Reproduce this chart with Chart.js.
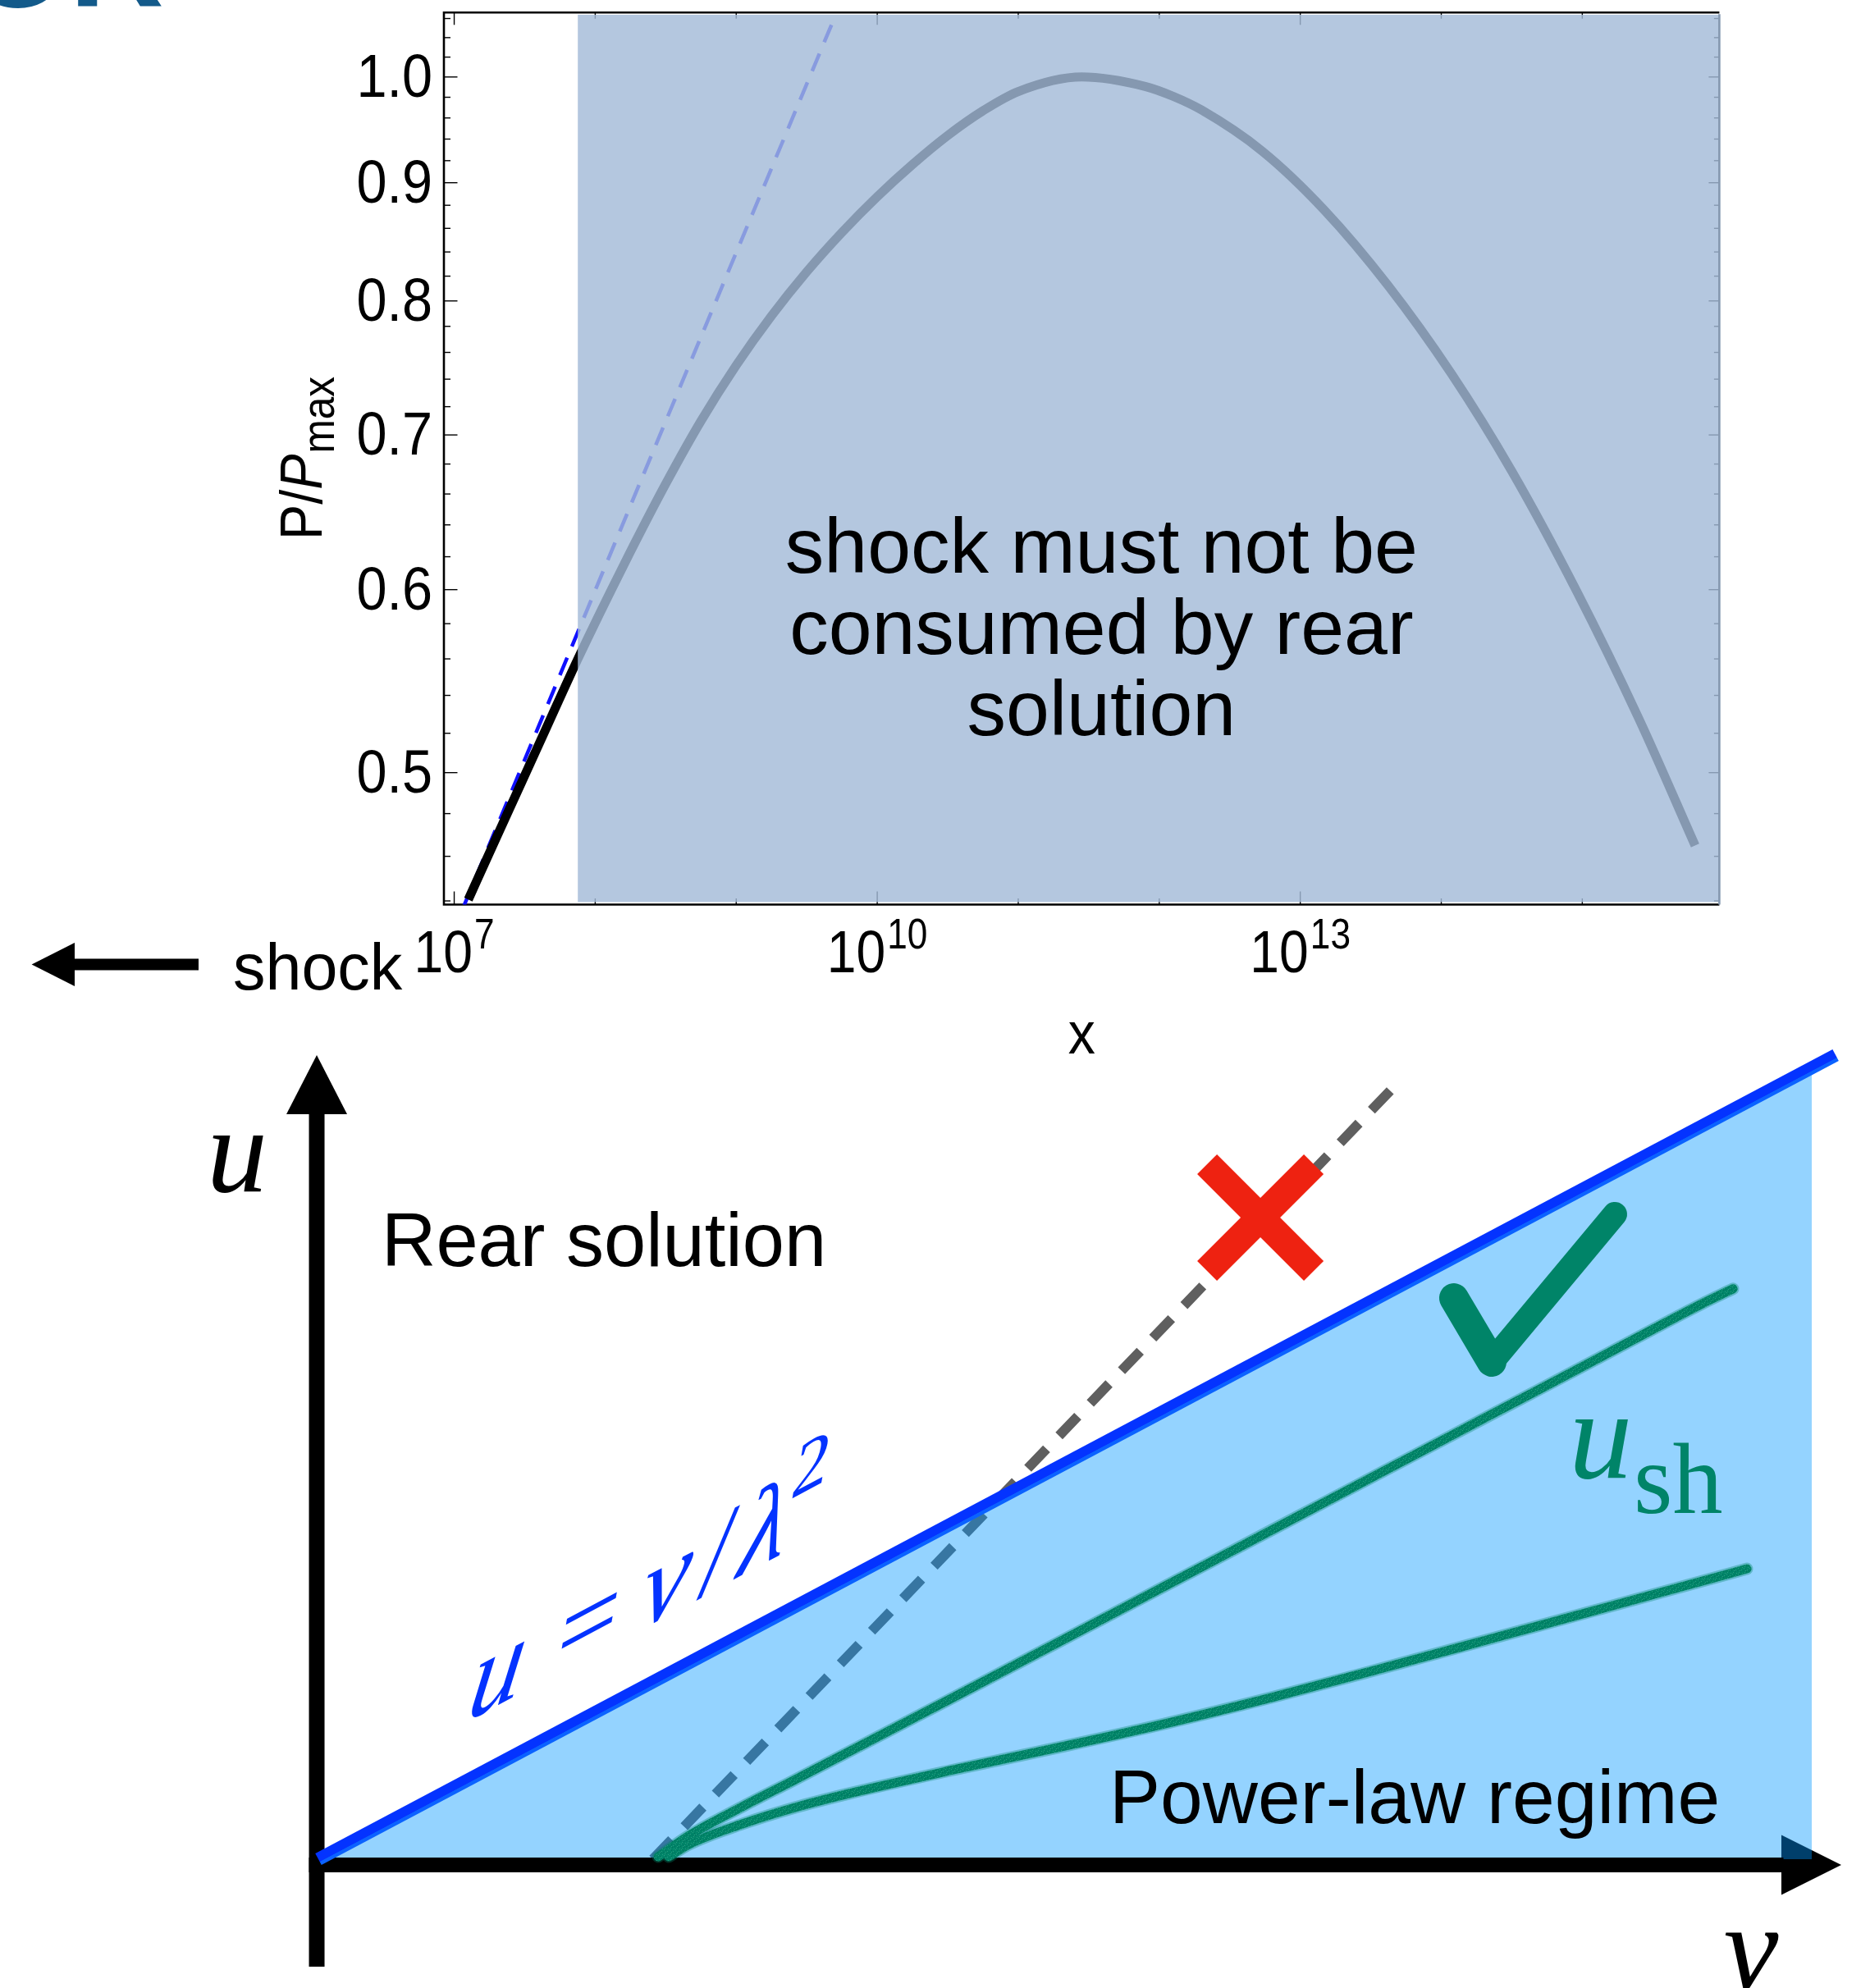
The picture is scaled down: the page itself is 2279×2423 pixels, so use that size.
<!DOCTYPE html>
<html>
<head>
<meta charset="utf-8">
<script src="https://cdn.jsdelivr.net/npm/chart.js@4.4.1/dist/chart.umd.min.js"></script>
<style>
  html, body { margin: 0; padding: 0; background: #fff; overflow: hidden; }
  #wrap { position: relative; width: 2279px; height: 2423px; }
  #wrap canvas { position: absolute; left: 0; top: 0; }
</style>
</head>
<body>
<div id="wrap">
  <canvas id="pressure" width="2279" height="2423"></canvas>
  <canvas id="phase" width="2279" height="2423"></canvas>
</div>
<script>
// ---------- upper panel: P/Pmax against x (log-log) ----------
const curveLogX = [7.10, 7.30, 7.48, 7.65, 7.876, 8.20, 8.50, 8.75, 9.00, 9.25, 9.50, 9.75, 10.00, 10.25,
                   10.50, 10.75, 11.00, 11.45, 11.90, 12.10, 12.30, 12.73, 13.17, 13.62,
                   14.07, 14.50, 14.96, 15.40, 15.80];
const curveP    = [0.4406, 0.4688, 0.4955, 0.5222, 0.5598, 0.6145, 0.6667, 0.7098, 0.7503, 0.7882, 0.8236,
                   0.8566, 0.8876, 0.9165, 0.9434, 0.9669, 0.9856, 1.0000, 0.9906, 0.9808,
                   0.9676, 0.9288, 0.8759, 0.8128, 0.7443, 0.6752, 0.5991, 0.5278, 0.4650];
const powerLawLogX = [7.07, 8.32, 9.70];
const powerLawP    = [0.438, 0.668, 1.062];
const excludedFromLogX = 7.876;          // start of the forbidden band
const excludedP = [0.4395, 1.0639];      // band bottom / top
const xRangeLog = [6.927, 15.972];
const yRange = [0.4384, 1.0663];
const yMajorTicks = [0.5, 0.6, 0.7, 0.8, 0.9, 1.0];
const yMinorTicks = [0.44, 0.46, 0.48, 0.52, 0.54, 0.56, 0.58, 0.62, 0.64, 0.66, 0.68, 0.72, 0.74, 0.76, 0.78,
                     0.82, 0.84, 0.86, 0.88, 0.92, 0.94, 0.96, 0.98, 1.02, 1.04, 1.06];
const xMajorExp = [7, 10, 13];
const xMinorExp = [8, 9, 11, 12, 14, 15];
const bandText = ['shock must not be', 'consumed by rear', 'solution'];

// ---------- lower panel: schematic u against v ----------
const boundaryV = [0, 101.6];
const boundaryU = [0, 53.85];
const regimeV = [0, 100];
const regimeU = [0, 53.0];
const rearV = [22.4, 71.8];
const rearU = [0, 51.5];
const shockUpperV = [22.75, 24.84, 28.35, 31.87, 35.33, 42.36, 49.40, 56.59, 63.79, 70.99, 78.19, 85.38, 92.58, 94.73];
const shockUpperU = [0.16, 1.60, 3.50, 5.30, 7.10, 10.75, 14.45, 18.23, 22.02, 25.80, 29.59, 33.37, 37.16, 38.20];
const shockLowerV = [23.46, 24.84, 28.35, 31.87, 35.33, 42.36, 49.40, 56.59, 63.79, 70.99, 78.19, 85.38, 92.58, 95.66];
const shockLowerU = [0.16, 1.00, 2.35, 3.45, 4.35, 5.95, 7.45, 9.05, 10.82, 12.72, 14.67, 16.63, 18.60, 19.45];

const SANS = '"Liberation Sans", Arial, Helvetica, sans-serif';
const SERIF = '"Liberation Serif", "Times New Roman", serif';

const pts = (xs, ys, f) => xs.map((x, i) => ({ x: f ? f(x) : x, y: ys[i] }));
const pow10 = e => Math.pow(10, e);

// text drawn with a horizontal squeeze; returns the drawn width
function sText(ctx, str, x, y, font, sx, align) {
  ctx.save();
  ctx.font = font;
  const w = ctx.measureText(str).width * sx;
  const x0 = align === 'center' ? x - w / 2 : align === 'right' ? x - w : x;
  ctx.translate(x0, y);
  ctx.scale(sx, 1);
  ctx.textAlign = 'left';
  ctx.textBaseline = 'alphabetic';
  ctx.fillText(str, 0, 0);
  ctx.restore();
  return w;
}
function seg(ctx, x1, y1, x2, y2) {
  ctx.beginPath(); ctx.moveTo(x1, y1); ctx.lineTo(x2, y2); ctx.stroke();
}
function tri(ctx, a, b, c) {
  ctx.beginPath(); ctx.moveTo(a[0], a[1]); ctx.lineTo(b[0], b[1]); ctx.lineTo(c[0], c[1]); ctx.closePath(); ctx.fill();
}

// frame, ticks and labels of the upper panel
const pressureDecor = {
  id: 'pressureDecor',
  beforeDatasetsDraw(chart) {
    const { ctx, chartArea: a, scales: { x, y } } = chart;
    ctx.save();
    ctx.strokeStyle = '#000';
    ctx.lineWidth = 1.4;
    const yTicks = yMajorTicks.map(v => [v, true]).concat(yMinorTicks.map(v => [v, false]));
    for (const [v, major] of yTicks) {
      const py = y.getPixelForValue(v);
      seg(ctx, a.left, py, a.left + (major ? 16.5 : 8), py);
      seg(ctx, a.right, py, a.right - (major ? 13 : 6.5), py);
    }
    const xTicks = xMajorExp.map(e => [e, true]).concat(xMinorExp.map(e => [e, false]));
    for (const [e, major] of xTicks) {
      const px = x.getPixelForValue(pow10(e));
      seg(ctx, px, a.bottom, px, a.bottom - (major ? 16 : 7.5));
      seg(ctx, px, a.top, px, a.top + (major ? 15 : 7.5));
    }
    ctx.lineWidth = 2.6;
    ctx.beginPath();
    ctx.moveTo(a.right, a.top); ctx.lineTo(a.left, a.top); ctx.lineTo(a.left, a.bottom); ctx.lineTo(a.right, a.bottom);
    ctx.stroke();
    ctx.restore();
  },
  afterDatasetsDraw(chart) {
    const { ctx, chartArea: a, scales: { x, y } } = chart;
    ctx.save();
    // right frame edge seen through the band
    ctx.strokeStyle = '#8598b0';
    ctx.lineWidth = 2.6;
    seg(ctx, a.right, a.top + 2, a.right, a.bottom);

    ctx.fillStyle = '#000';
    // band caption
    ctx.font = `95px ${SANS}`;
    ctx.textAlign = 'center';
    ctx.textBaseline = 'alphabetic';
    const cx = x.getPixelForValue(pow10(11.59));
    const by = y.getPixelForValue(0.61);
    bandText.forEach((t, i) => ctx.fillText(t, cx, by + i * 99));

    // y tick labels
    for (const v of yMajorTicks) {
      const py = y.getPixelForValue(v);
      sText(ctx, v.toFixed(1), a.left - 14, py + 24, `74px ${SANS}`, 0.9, 'right');
    }
    // x tick labels 10^n
    for (const e of xMajorExp) {
      const px = x.getPixelForValue(pow10(e));
      ctx.font = `73px ${SANS}`;
      const wMain = ctx.measureText('10').width * 0.88;
      ctx.font = `52px ${SANS}`;
      const wSup = ctx.measureText(String(e)).width * 0.85;
      const x0 = px - (wMain + wSup + 2) / 2;
      sText(ctx, '10', x0, a.bottom + 82, `73px ${SANS}`, 0.88, 'left');
      sText(ctx, String(e), x0 + wMain + 2, a.bottom + 53, `52px ${SANS}`, 0.85, 'left');
    }
    // x axis title
    sText(ctx, 'x', (a.left + a.right) / 2, a.bottom + 181, `72px ${SANS}`, 0.92, 'center');

    // y axis title, rotated
    ctx.save();
    ctx.font = `72px ${SANS}`;
    const wP = ctx.measureText('P').width * 0.9, wS = ctx.measureText('/').width * 0.9;
    ctx.font = `55px ${SANS}`;
    const wM = ctx.measureText('max').width * 0.9;
    const total = wP * 2 + wS + wM;
    ctx.translate(a.left - 149, (a.top + a.bottom) / 2 + total / 2);
    ctx.rotate(-Math.PI / 2);
    let t = 0;
    t += sText(ctx, 'P', t, 0, `72px ${SANS}`, 0.9, 'left');
    t += sText(ctx, '/', t, 0, `72px ${SANS}`, 0.9, 'left');
    t += sText(ctx, 'P', t, 0, `italic 72px ${SANS}`, 0.9, 'left');
    sText(ctx, 'max', t + 1, 15, `55px ${SANS}`, 0.9, 'left');
    ctx.restore();

    // "shock" with leftward arrow
    ctx.font = `79px ${SANS}`;
    ctx.textAlign = 'left';
    ctx.fillText('shock', 284, a.bottom + 103.5);
    const ay = a.bottom + 73;
    ctx.fillRect(89, ay - 7, 153, 14);
    tri(ctx, [38.6, ay], [91, ay - 26.5], [91, ay + 26.5]);

    // heading fragment at the page edge
    ctx.fillStyle = '#135a8a';
    ctx.font = `bold 160px ${SANS}`;
    ctx.fillText('OR', -40, 8);
    ctx.restore();
  }
};

new Chart(document.getElementById('pressure'), {
  type: 'scatter',
  data: {
    datasets: [
      {
        label: 'consumed by rear solution',
        data: [{ x: pow10(excludedFromLogX), y: excludedP[1] }, { x: pow10(xRangeLog[1]), y: excludedP[1] }],
        showLine: true,
        borderWidth: 0,
        borderColor: 'rgba(0,0,0,0)',
        backgroundColor: 'rgba(163,186,216,0.816)',
        fill: { value: excludedP[0] },
        pointRadius: 0,
        order: 0
      },
      {
        label: 'P/Pmax',
        data: pts(curveLogX, curveP, pow10),
        showLine: true,
        borderColor: '#000',
        borderWidth: 11,
        cubicInterpolationMode: 'monotone',
        fill: false,
        pointRadius: 0,
        order: 1
      },
      {
        label: 'power law',
        data: pts(powerLawLogX, powerLawP, pow10),
        showLine: true,
        borderColor: '#1010ff',
        borderWidth: 4.5,
        borderDash: [23, 15],
        fill: false,
        pointRadius: 0,
        order: 2
      }
    ]
  },
  options: {
    responsive: false,
    devicePixelRatio: 1,
    animation: false,
    events: [],
    layout: { padding: { left: 541, right: 2279 - 2095.4, top: 15.3, bottom: 2423 - 1102.5 } },
    scales: {
      x: { type: 'logarithmic', min: pow10(xRangeLog[0]), max: pow10(xRangeLog[1]), bounds: 'data', display: false },
      y: { type: 'logarithmic', min: yRange[0], max: yRange[1], bounds: 'data', display: false }
    },
    plugins: { legend: { display: false }, tooltip: { enabled: false } }
  },
  plugins: [pressureDecor]
});

// chalky green stroke
function chalk(base, light, dark) {
  const c = document.createElement('canvas');
  c.width = 7; c.height = 7;
  const g = c.getContext('2d');
  g.fillStyle = base; g.fillRect(0, 0, 7, 7);
  g.fillStyle = light;
  [[1, 2], [4, 0], [5, 5], [2, 6], [6, 3]].forEach(([px, py]) => g.fillRect(px, py, 1, 1));
  g.fillStyle = dark;
  [[0, 4], [3, 3], [6, 1]].forEach(([px, py]) => g.fillRect(px, py, 1, 1));
  return g.createPattern(c, 'repeat');
}
const GREEN = '#008468';
const chalkGreen = chalk(GREEN, '#2a9d81', '#00705a');

// axes, marks and labels of the lower panel
const phaseDecor = {
  id: 'phaseDecor',
  beforeDatasetsDraw(chart) {
    const { ctx, scales: { x, y } } = chart;
    const ox = x.getPixelForValue(0), oy = y.getPixelForValue(0);
    ctx.save();
    ctx.fillStyle = '#000';
    tri(ctx, [ox - 2, oy - 980], [ox - 39, oy - 908], [ox + 35, oy - 908]);
    tri(ctx, [ox + 1856, oy + 7], [ox + 1783, oy - 29.5], [ox + 1783, oy + 43.5]);
    ctx.restore();
  },
  beforeDatasetDraw(chart, args) {
    if (chart.data.datasets[args.index].label !== 'u = v/λ²') return;
    const { ctx, scales: { x, y } } = chart;
    const ox = x.getPixelForValue(0), oy = y.getPixelForValue(0);
    ctx.save();
    ctx.fillStyle = '#000';
    ctx.fillRect(ox - 11.5, oy - 910, 19, 1041);
    ctx.fillRect(ox - 11.5, oy - 2, 1797, 18);
    ctx.restore();
  },
  afterDatasetsDraw(chart) {
    const { ctx, scales: { x, y } } = chart;
    const P = (v, u) => [x.getPixelForValue(v), y.getPixelForValue(u)];
    ctx.save();

    // rejected: red cross on the rear-solution line
    const [cx, cy] = P(63.08, 42.97);
    ctx.strokeStyle = '#ee2211';
    ctx.lineWidth = 34;
    ctx.lineCap = 'butt';
    seg(ctx, cx - 65, cy - 65, cx + 65, cy + 65);
    seg(ctx, cx + 65, cy - 65, cx - 65, cy + 65);

    // accepted: green tick
    const p1 = P(76.04, 37.58), p2 = P(78.57, 33.30), p3 = P(86.81, 43.19);
    ctx.strokeStyle = GREEN;
    ctx.lineCap = 'round';
    ctx.lineJoin = 'round';
    ctx.lineWidth = 36;
    seg(ctx, p1[0], p1[1], p2[0], p2[1]);
    ctx.lineWidth = 30;
    seg(ctx, p2[0], p2[1], p3[0], p3[1]);

    ctx.textAlign = 'left';
    ctx.textBaseline = 'alphabetic';
    ctx.fillStyle = '#000';
    let q = P(4.23, 39.73);
    ctx.font = `92px ${SANS}`;
    ctx.fillText('Rear solution', q[0], q[1]);
    q = P(52.97, 2.42);
    ctx.font = `93px ${SANS}`;
    ctx.fillText('Power-law regime', q[0], q[1]);

    // axis symbols
    q = P(-7.47, 44.73);
    ctx.font = `italic 148px ${SERIF}`;
    ctx.fillText('u', q[0], q[1]);
    q = P(94.1, -8.74);
    ctx.font = `italic 150px ${SERIF}`;
    ctx.fillText('ν', q[0], q[1]);

    // u_sh
    ctx.fillStyle = GREEN;
    q = P(83.74, 25.55);
    ctx.font = `italic 155px ${SERIF}`;
    ctx.fillText('u', q[0], q[1]);
    q = P(88.08, 23.19);
    ctx.font = `122px ${SERIF}`;
    ctx.fillText('sh', q[0], q[1]);

    // slanted boundary label
    const S = 148;
    const ang = 28 * Math.PI / 180, lean = 10 * Math.PI / 180;
    q = P(11.92, 11.87);
    ctx.translate(q[0], q[1]);
    ctx.transform(Math.cos(ang), -Math.sin(ang), -Math.sin(lean), Math.cos(lean), 0, 0);
    ctx.fillStyle = '#0433ff';
    ctx.textAlign = 'center';
    const base = 0.22 * S;
    const pieces = [
      ['u', 0, base, `italic ${S}px ${SERIF}`],
      ['=', 125, base, `${S}px ${SERIF}`],
      ['ν', 233, base, `italic ${S}px ${SERIF}`],
      ['/', 303, base, `${S}px ${SERIF}`],
      ['λ', 369, base, `italic ${S}px ${SERIF}`],
      ['2', 422, -36, `100px ${SERIF}`]
    ];
    for (const [s, dx, dy, f] of pieces) {
      ctx.font = f;
      ctx.fillText(s, dx, dy);
    }
    ctx.restore();
  }
};

const blueEdge = (c) => {
  const ch = c.chart;
  if (!ch.chartArea) return '#0433ff';
  const xs = ch.scales.x, ys = ch.scales.y;
  const x0 = xs.getPixelForValue(boundaryV[0]), y0 = ys.getPixelForValue(boundaryU[0]);
  const x1 = xs.getPixelForValue(boundaryV[1]), y1 = ys.getPixelForValue(boundaryU[1]);
  const L = Math.hypot(x1 - x0, y1 - y0);
  const nx = -(y1 - y0) / L, ny = (x1 - x0) / L;
  const g = ch.ctx.createLinearGradient(x0 - nx * 8, y0 - ny * 8, x0 + nx * 8, y0 + ny * 8);
  g.addColorStop(0, '#0433ff');
  g.addColorStop(0.7, '#0433ff');
  g.addColorStop(0.74, '#0b62ff');
  g.addColorStop(1, '#0b62ff');
  return g;
};

const shockLine = (label, v, u, color, width, order) => ({
  label,
  data: pts(v, u),
  showLine: true,
  borderColor: color,
  borderWidth: width,
  cubicInterpolationMode: 'monotone',
  borderCapStyle: 'round',
  fill: false,
  pointRadius: 0,
  order
});

new Chart(document.getElementById('phase'), {
  type: 'scatter',
  data: {
    datasets: [
      {
        label: 'rear solution',
        data: pts(rearV, rearU),
        showLine: true,
        borderColor: '#5f5f5f',
        borderWidth: 12,
        borderDash: [33, 22],
        borderCapStyle: 'butt',
        fill: false,
        pointRadius: 0,
        order: 7
      },
      {
        label: 'power-law regime',
        data: pts(regimeV, regimeU),
        showLine: true,
        borderWidth: 0,
        borderColor: 'rgba(0,0,0,0)',
        backgroundColor: 'rgba(0,150,255,0.42)',
        fill: 'origin',
        pointRadius: 0,
        order: 6
      },
      {
        label: 'u = v/λ²',
        data: pts(boundaryV, boundaryU),
        showLine: true,
        borderColor: blueEdge,
        borderWidth: 16,
        fill: false,
        pointRadius: 0,
        order: 5
      },
      shockLine('u_sh upper (edge)', shockUpperV, shockUpperU, 'rgba(0,132,104,0.35)', 15, 4),
      shockLine('u_sh lower (edge)', shockLowerV, shockLowerU, 'rgba(0,132,104,0.35)', 15, 3),
      shockLine('u_sh upper', shockUpperV, shockUpperU, chalkGreen, 11, 2),
      shockLine('u_sh lower', shockLowerV, shockLowerU, chalkGreen, 11, 1)
    ]
  },
  options: {
    responsive: false,
    devicePixelRatio: 1,
    animation: false,
    events: [],
    layout: { padding: 0 },
    scales: {
      x: { type: 'linear', min: -21.32, max: 103.90, bounds: 'data', display: false },
      y: { type: 'linear', min: -8.626, max: 124.51, bounds: 'data', display: false }
    },
    plugins: { legend: { display: false }, tooltip: { enabled: false } }
  },
  plugins: [phaseDecor]
});
</script>
</body>
</html>
